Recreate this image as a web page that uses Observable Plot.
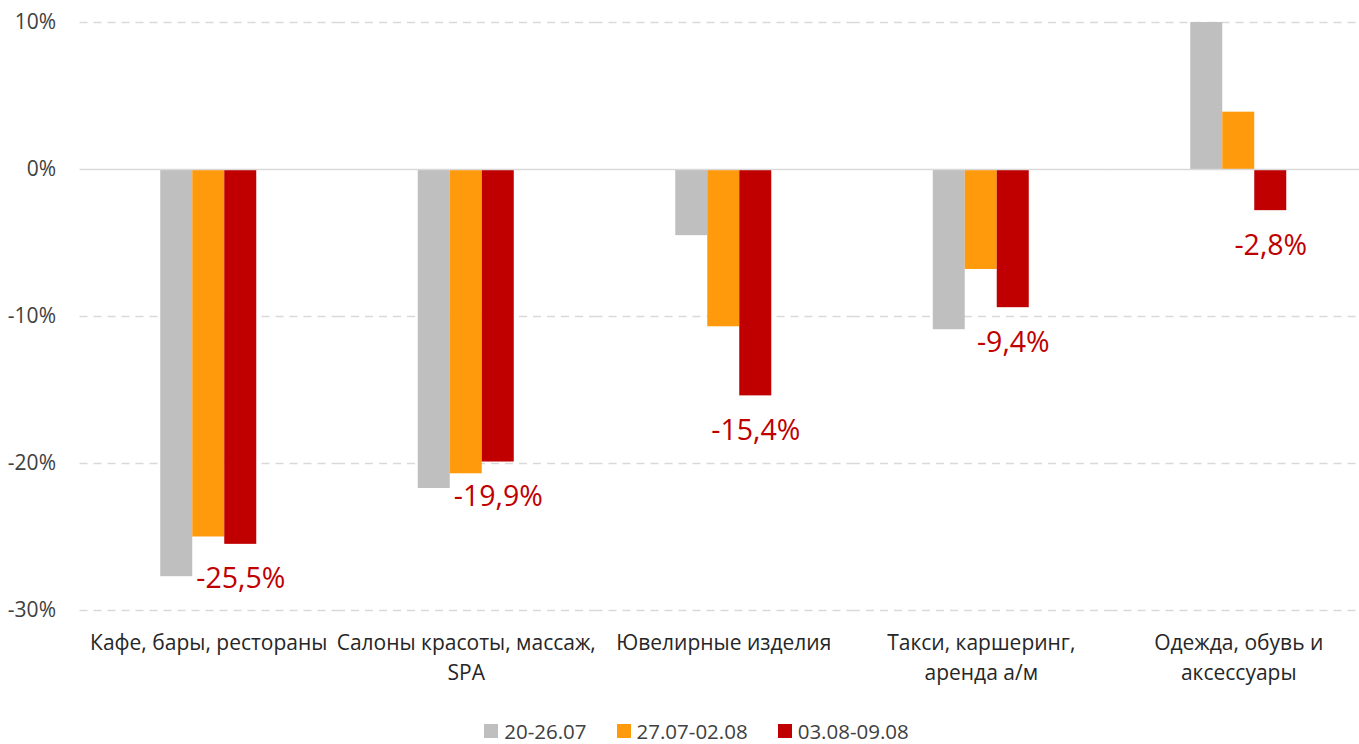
<!DOCTYPE html>
<html>
<head>
<meta charset="utf-8">
<script src="https://cdn.jsdelivr.net/npm/d3@7"></script>
<script src="https://cdn.jsdelivr.net/npm/@observablehq/plot@0.6"></script>
<style>
  html, body { margin: 0; padding: 0; background: #fff; overflow: hidden; }
  body { width: 1359px; font-family: "Open Sans", sans-serif; }
  #chart svg { overflow: hidden; }
  #legend { display: flex; justify-content: center; align-items: center; gap: 30px; font-size: 20.5px; color: #404040; margin-top: 12px; padding-left: 34px; }
  #legend .item { display: flex; align-items: center; gap: 6px; }
  #legend .sw { width: 14px; height: 14px; display: inline-block; }
</style>
</head>
<body>
<div id="chart"></div>
<div id="legend"></div>
<script>
const categories = ["Кафе, бары, рестораны", "Салоны красоты, массаж,\nSPA", "Ювелирные изделия", "Такси, каршеринг,\nаренда а/м", "Одежда, обувь и\nаксессуары"];
const series = ["20-26.07", "27.07-02.08", "03.08-09.08"];
const colors = ["#BFBFBF", "#FF9A0C", "#C00000"];
const values1 = [-27.7, -21.7, -4.5, -10.9, 10.0];
const values2 = [-25.0, -20.7, -10.7, -6.8, 3.9];
const values3 = [-25.5, -19.9, -15.4, -9.4, -2.8];
const yTicks = [10, 0, -10, -20, -30];
const gridTicks = [10, -10, -20, -30];

const allValues = [values1, values2, values3];
const data = [];
categories.forEach((c, i) => series.forEach((s, j) => data.push({cat: c, series: s, value: allValues[j][i]})));
const labelData = data.filter(d => d.series === series[2]);
const fmt = v => v.toFixed(1).replace(".", ",") + "%";

const chart = Plot.plot({
  width: 1359,
  height: 705,
  marginTop: 22,
  marginBottom: 95,
  marginLeft: 79.5,
  marginRight: -8,
  style: {fontFamily: "'Open Sans', sans-serif", fontSize: "21px", color: "#404040", background: "#fff"},
  fx: {domain: categories, padding: 0, round: false, label: null},
  x: {domain: series, paddingInner: 0, paddingOuter: 2.523, round: false, axis: null},
  y: {domain: [-30, 10], nice: false, label: null},
  color: {domain: series, range: colors},
  marks: [
    Plot.ruleY(gridTicks, {stroke: "#D9D9D9", strokeWidth: 1.5, strokeDasharray: "8,6"}),
    Plot.barY(data, {fx: "cat", x: "series", y: "value", fill: "series", inset: 0}),
    Plot.ruleY([0], {stroke: "#D9D9D9", strokeWidth: 1.5}),
    Plot.text(labelData, {fx: "cat", x: "series", y: "value", text: d => fmt(d.value), dy: 35, fill: "#C00000", fontSize: 28.5}),
    Plot.axisY({ticks: yTicks, tickFormat: d => d + "%", tickSize: 0, tickPadding: 24, label: null, fill: "#404040", fontSize: 21}),
    Plot.axisFx({anchor: "bottom", tickSize: 0, tickPadding: 19, label: null, lineHeight: 1.4, fill: "#262626", fontSize: 21})
  ]
});
document.getElementById("chart").appendChild(chart);

const legend = document.getElementById("legend");
series.forEach((s, i) => {
  const item = document.createElement("div");
  item.className = "item";
  const sw = document.createElement("span");
  sw.className = "sw";
  sw.style.background = colors[i];
  const t = document.createElement("span");
  t.textContent = s;
  item.appendChild(sw);
  item.appendChild(t);
  legend.appendChild(item);
});
</script>
</body>
</html>
